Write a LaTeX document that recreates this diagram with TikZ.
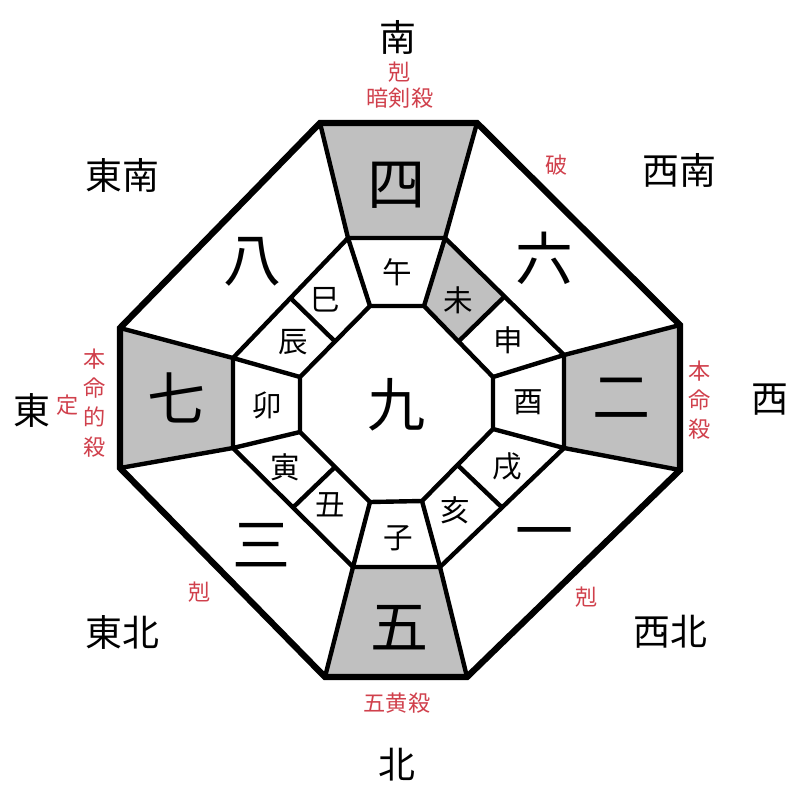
\documentclass[tikz,border=0pt]{standalone}
\usepackage{fontspec}
\newfontfamily\cjk{Noto Sans CJK JP}
\usetikzlibrary{calc}
\definecolor{kyored}{RGB}{208,64,76}
\definecolor{cellgray}{RGB}{192,192,192}
\tikzset{
    direction/.style={font=\cjk\fontsize{10.5}{12}\selectfont, inner sep=0pt},
    number/.style={font=\cjk\fontsize{16.5}{18}\selectfont, inner sep=0pt},
    zodiac/.style={font=\cjk\fontsize{8.4}{10}\selectfont, inner sep=0pt},
    remark/.style={font=\cjk\fontsize{6.3}{8.3}\selectfont, text=kyored, inner sep=0pt, align=center},
    thickline/.style={line width=1.8pt, line join=miter},
    thinline/.style={line width=1.25pt, line join=round},
    shaded/.style={fill=cellgray}
}

\begin{document}
\begin{tikzpicture}[x=0.01cm, y=-0.01cm]
    \useasboundingbox (0,0) rectangle (800,800);

    % octagon corners
    \coordinate (o1) at (320,123);
    \coordinate (o2) at (477,123);
    \coordinate (o3) at (680,325);
    \coordinate (o4) at (680,470);
    \coordinate (o5) at (467,677);
    \coordinate (o6) at (325,677);
    \coordinate (o7) at (120,468);
    \coordinate (o8) at (120,328);
    \coordinate (m1) at (348,238);
    \coordinate (m2) at (445,238);
    \coordinate (m3) at (564,355);
    \coordinate (m4) at (564,448);
    \coordinate (m5) at (440,567);
    \coordinate (m6) at (353,567);
    \coordinate (m7) at (233,448);
    \coordinate (m8) at (233,358);
    \coordinate (i1) at (370,306);
    \coordinate (i2) at (424,306);
    \coordinate (i3) at (493,377);
    \coordinate (i4) at (493,429);
    \coordinate (i5) at (422,501);
    \coordinate (i6) at (370,502);
    \coordinate (i7) at (300,432);
    \coordinate (i8) at (300,377);

    % gray cells
    \fill [shaded] (o1) -- (o2) -- (m2) -- (m1) -- cycle;
    \fill [shaded] (o3) -- (o4) -- (m4) -- (m3) -- cycle;
    \fill [shaded] (o5) -- (o6) -- (m6) -- (m5) -- cycle;
    \fill [shaded] (o7) -- (o8) -- (m8) -- (m7) -- cycle;
    \fill [shaded] (m2) -- ($(m2)!0.5!(m3)$) -- ($(i2)!0.5!(i3)$) -- (i2) -- cycle;

    % rings and spokes
    \draw [thinline] (m1) -- (m2) -- (m3) -- (m4) -- (m5) -- (m6) -- (m7) -- (m8) -- cycle;
    \draw [thinline] (i1) -- (i2) -- (i3) -- (i4) -- (i5) -- (i6) -- (i7) -- (i8) -- cycle;
    \foreach \k in {1,...,8}
        \draw [thinline] (i\k) -- (m\k) -- (o\k);
    \foreach \a/\b in {2/3, 4/5, 6/7, 8/1}
        \draw [thinline] ($(i\a)!0.5!(i\b)$) -- ($(m\a)!0.5!(m\b)$);
    \draw [thickline] (o1) -- (o2) -- (o3) -- (o4) -- (o5) -- (o6) -- (o7) -- (o8) -- cycle;

    % nine stars
    \node (n9) [number] at (397,405) {九};
    \node (n4) [number] at (397,185) {四};
    \node (n8) [number] at (253,262) {八};
    \node (n6) [number] at (545,258) {六};
    \node (n7) [number] at (177,398) {七};
    \node (n2) [number] at (622,398) {二};
    \node (n3) [number] at (262,545) {三};
    \node (n1) [number] at (545,540) {一};
    \node (n5) [number] at (400,628) {五};

    % twelve branches
    \node (ne) [zodiac] at (397,272) {午};
    \node (mi) [zodiac] at (325,300) {巳};
    \node (hitsuji) [zodiac] at (458,300) {未};
    \node (tatsu) [zodiac] at (293,342) {辰};
    \node (saru) [zodiac] at (508,340) {申};
    \node (u) [zodiac] at (267,405) {卯};
    \node (tori) [zodiac] at (528,402) {酉};
    \node (tora) [zodiac] at (285,467) {寅};
    \node (inu) [zodiac] at (507,467) {戌};
    \node (ushi) [zodiac] at (330,505) {丑};
    \node (i) [zodiac] at (455,510) {亥};
    \node (nezumi) [zodiac] at (398,538) {子};

    % directions
    \node (south) [direction] at (398,37) {南};
    \node (north) [direction] at (397,765) {北};
    \node (east) [direction] at (32,410) {東};
    \node (west) [direction] at (770,400) {西};
    \node (se) [direction] at (122,175) {東南};
    \node (sw) [direction] at (679,170) {西南};
    \node (ne2) [direction] at (122,632) {東北};
    \node (nw) [direction] at (670,632) {西北};

    % remarks
    \node (koku1) [remark] at (400,72) {剋};
    \node (anken) [remark] at (400,98) {暗剣殺};
    \node (ha) [remark] at (557,165) {破};
    \node (honmei1) [remark] at (95,403) {本\\命\\的\\殺};
    \node (jo) [remark] at (68,405) {定};
    \node (honmei2) [remark] at (700,400) {本\\命\\殺};
    \node (koku2) [remark] at (200,592) {剋};
    \node (koku3) [remark] at (587,597) {剋};
    \node (gooh) [remark] at (397,703) {五黄殺};
\end{tikzpicture}
\end{document}
